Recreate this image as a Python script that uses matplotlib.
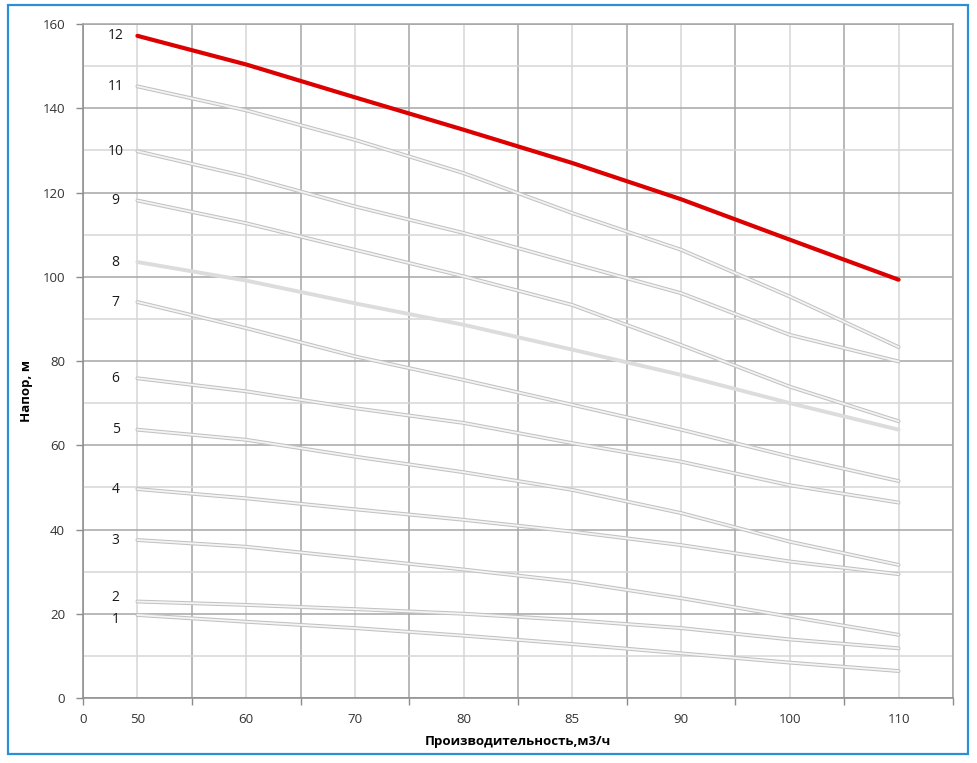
import matplotlib.pyplot as plt
import matplotlib.patheffects as pe
import numpy as np
from matplotlib.patches import Rectangle

plt.rcParams['font.family'] = ['Open Sans', 'DejaVu Sans']

# подача, м3/ч (категории по оси X)
flow = [50, 60, 70, 80, 85, 90, 100, 110]

# напор для каждой ступени, м
head_1 = [19.7, 18.1, 16.6, 14.8, 12.8, 10.6, 8.4, 6.4]
head_2 = [22.9, 22.1, 21.1, 20.0, 18.5, 16.6, 13.9, 11.8]
head_3 = [37.5, 35.9, 33.2, 30.5, 27.6, 23.7, 19.3, 15.0]
head_4 = [49.6, 47.4, 44.8, 42.3, 39.5, 36.3, 32.4, 29.4]
head_5 = [63.7, 61.3, 57.3, 53.6, 49.4, 43.9, 37.1, 31.6]
head_6 = [75.9, 72.8, 68.8, 65.3, 60.5, 56.1, 50.5, 46.4]
head_7 = [94.0, 87.8, 81.1, 75.5, 69.6, 63.7, 57.3, 51.5]
head_8 = [103.5, 99.1, 93.7, 88.6, 82.7, 76.7, 70.0, 63.7]
head_9 = [118.1, 112.7, 106.4, 100.1, 93.3, 83.8, 73.9, 65.7]
head_10 = [129.8, 123.8, 116.7, 110.4, 103.2, 96.1, 86.2, 79.9]
head_11 = [145.2, 139.5, 132.5, 124.6, 115.1, 106.4, 95.3, 83.3]
head_12 = [157.2, 150.4, 142.6, 134.9, 127.0, 118.4, 108.8, 99.3]

curves = [head_1, head_2, head_3, head_4, head_5, head_6,
          head_7, head_8, head_9, head_10, head_11, head_12]
curve_names = ['1', '2', '3', '4', '5', '6', '7', '8', '9', '10', '11', '12']

fig = plt.figure(figsize=(9.77, 7.63), dpi=100)
ax = fig.add_axes([0.085, 0.0852, 0.8904, 0.8833])

x = np.arange(len(flow)) + 0.5

for name, h in zip(curve_names, curves):
    if name == '12':
        ax.plot(x, h, color='#dd0000', lw=3.0, solid_capstyle='round', zorder=5)
    elif name == '8':
        ax.plot(x, h, color='#dcdcdc', lw=2.8, solid_capstyle='round', zorder=4)
    else:
        ax.plot(x, h, color='#f4f4f4', lw=1.3, solid_capstyle='round', zorder=4,
                path_effects=[pe.Stroke(linewidth=2.8, foreground='#c2c2c2'), pe.Normal()])
    # номер ступени слева от начала кривой
    dy = {'2': 1.0, '1': -1.0}.get(name, 0)
    ax.text(0.3, h[0] + dy, name, fontsize=10, color='#1a1a1a',
            ha='center', va='center')

ax.set_xlim(0, 8)
ax.set_ylim(0, 160)

ax.set_xticks(range(9), ['0'] + [''] * 8)
ax.set_xticks(x, [str(f) for f in flow], minor=True)
ax.set_yticks(range(0, 161, 20))
ax.set_yticks(range(10, 160, 20), minor=True)

ax.tick_params(axis='both', which='major', length=5, width=1, color='#8c8c8c',
               labelsize=9.5, labelcolor='#333333')
ax.tick_params(axis='x', which='major', pad=6)
ax.tick_params(axis='x', which='minor', length=0, pad=11, labelsize=9.5,
               labelcolor='#333333')
ax.tick_params(axis='y', which='minor', length=0)
ax.tick_params(axis='y', which='major', pad=8)

ax.grid(which='major', color='#a6a6a6', lw=1.1)
ax.grid(which='minor', color='#d6d6d6', lw=1.1)
ax.set_axisbelow(True)
for s in ax.spines.values():
    s.set_color('#a6a6a6')
    s.set_linewidth(1.1)
ax.spines['left'].set_color('#8c8c8c')
ax.spines['bottom'].set_color('#8c8c8c')

ax.set_xlabel('Производительность,м3/ч', fontsize=9.5, fontweight='bold', labelpad=6)
ax.set_ylabel('Напор, м', fontsize=9.5, fontweight='bold')
ax.yaxis.set_label_coords(-0.057, 0.455)

fig.patches.append(Rectangle((0.0082, 0.0118), 0.9826, 0.9816, transform=fig.transFigure,
                             fill=False, edgecolor='#2b8fd6', lw=1.6))

plt.savefig('out.png', dpi=100)
